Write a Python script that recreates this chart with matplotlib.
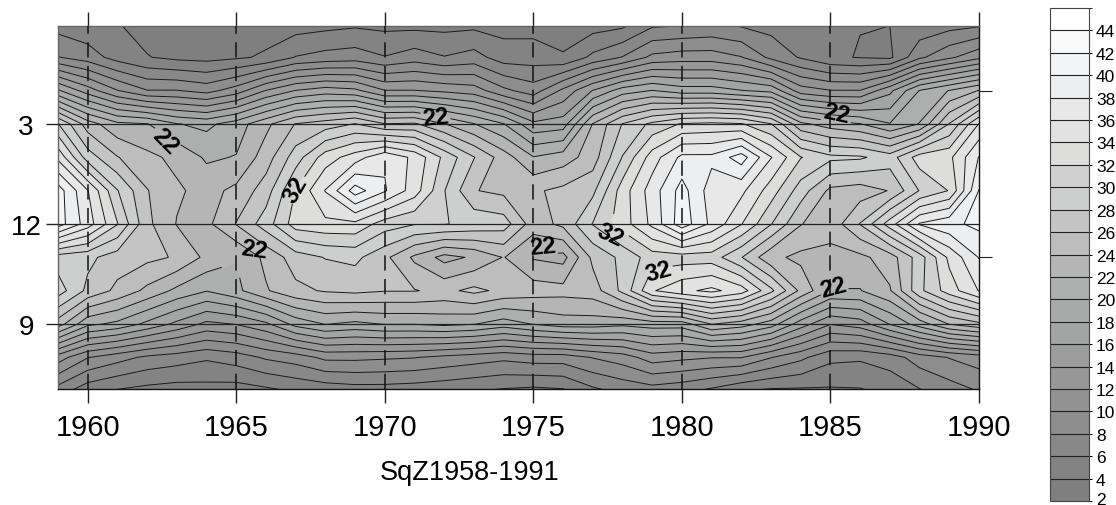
import matplotlib
matplotlib.use("Agg")
import matplotlib.pyplot as plt
from matplotlib.colors import ListedColormap, BoundaryNorm
from matplotlib.transforms import ScaledTranslation
import numpy as np

plt.rcParams['font.family'] = ['Liberation Sans', 'DejaVu Sans']

years = list(range(1959, 1991))
row_positions = [6, 5, 4, 3, 2, 1, 0, -1, -2, -3, -4, -5]

month_06 = [5.1,4.5,4.1,3.2,3,3,3,3,3,3.3,3.6,3.4,3.3,3.3,3.4,3.2,3.2,3,3,3.4,5.5,5.7,6.1,5.6,5.2,4.9,4.3,4.05,4.02,4.5,5.1,5.5]
month_05 = [8.1,7,5.2,4.1,3.5,3.3,3.7,4.3,6.1,6.7,7,6.1,7,6.1,6.8,5,5,4.2,6.5,8.1,10.5,11,11,10.1,7.5,5.8,4.3,3.9,3.6,7.6,9.6,11.5]
month_04 = [18.3,15,12.1,10.1,10.1,9.3,11,14.1,16.1,17,16.5,14.1,14.1,13.6,13,10.5,9,12.5,16.1,19,20.1,19,19,18.1,17.5,13,12.1,12.1,15.5,20.1,22.1,24.1]
month_03 = [30.1,25,22.5,22.1,20.1,19.5,21,23.5,26.1,27,28.1,26.1,26.3,24.1,22.1,20.1,16.5,17,24.1,28.1,30.5,32.2,32.5,32.2,30.1,24.5,23,22.1,20.1,22.1,28.1,34.1]
month_02 = [35.5,29,26.1,24.5,23.5,21.7,22.1,25,29,33,35,37.7,35.5,31.5,28.1,25,22.1,23,25,30.1,35,38.5,38.5,41,36.1,32.1,30.5,30.3,29,33,33.5,38.1]
month_01 = [41,36.1,30.1,26.1,24.3,23.3,24.5,27,32.1,36.1,41,38.2,35,30.1,26.1,25.5,25.7,26.5,27.5,33,37,40.8,37,36.5,33,29,25.5,25,26.1,30.1,32.1,40.1]
month_12 = [41,37,32.1,26.5,23.9,23.5,26.1,29,33,33.5,33.5,31,30.1,30.1,29.5,29,25,26.5,30.1,33,36.5,41.2,37.5,34.1,30.1,26.1,24.7,28.1,33,38.2,39.5,40.5]
month_11 = [29,28.5,27,26.5,25.8,23.5,22.1,24.5,27,28.1,28.5,26.5,23.6,21.3,22.3,24.1,21.8,21.3,26.5,28.5,31,31,31,28.1,24.5,23.5,23.5,23.5,25,29,34.5,38.1]
month_10 = [31,27.5,25.5,23.5,21.5,20.1,21.5,23.8,25.5,26.2,26.5,26.1,26.1,25.5,26.5,25.5,25,24.7,25,28.5,33.8,35.5,36.5,35,30.5,25.5,21.9,21.9,23.8,29.5,33,36.1]
month_09 = [25,20.5,19.5,17.5,15.5,13.5,14.1,15.6,18.7,20.1,19.5,20.1,20.1,20.5,20.1,19,20.1,21,21,20.5,21,21,24.1,23,21,17,14.1,15,18.1,21,24.1,25.5]
month_08 = [13,10.1,8.8,7.6,7,6.3,7,8.3,9,10.5,10.5,10.3,10.1,9.5,9,8.5,9,9,10.1,11,13,12.5,12.1,12.1,10.1,8.5,6.5,6.3,7,9,10.1,11]
month_07 = [7,4.7,3.8,3.3,3,3.2,3,3.5,4.2,4.6,5,5,4.8,4.5,4.1,3.7,3.4,3.7,5.5,6.5,7,6.5,5.5,4.1,3.6,3.6,3.7,3.8,4.5,5.8,7,8.1]

levels = list(range(2, 47, 2))
labelled_levels = [22, 32]
band_colors = ['#7f7f7f','#838383','#888888','#8d8d8d','#929292','#979797','#9c9c9c',
               '#a3a5a4','#a8aaa9','#adafae','#b5b5b5','#bdbdbd','#c4c4c4','#cdcfcf',
               '#d0d0d0','#dddddc','#e2e2e2','#e8e8e8','#eceef0','#f3f4f6','#f9f9f9','#ffffff']
year_ticks = [1960, 1965, 1970, 1975, 1980, 1985, 1990]
season_ticks = [3, 0, -3]
season_labels = ['3', '12', '9']
right_ticks = [4, -1]
colorbar_ticks = list(range(2, 45, 2))
title_text = 'SqZ1958-1991'

Z = np.array([month_06, month_05, month_04, month_03, month_02, month_01,
              month_12, month_11, month_10, month_09, month_08, month_07])

W, H = 1116, 506
fig = plt.figure(figsize=(W/100, H/100), dpi=100)
ax = fig.add_axes([58/W, 1-390/H, (979-58)/W, (390-27)/H])

cmap = ListedColormap(band_colors)
norm = BoundaryNorm(levels, cmap.N)
cf = ax.contourf(years, row_positions, Z, levels=levels, cmap=cmap, norm=norm)
plain_levels = [v for v in levels if v not in labelled_levels]
ax.contour(years, row_positions, Z, levels=plain_levels, colors='#1a1a1a', linewidths=0.7)
cs = ax.contour(years, row_positions, Z, levels=labelled_levels, colors='#1a1a1a', linewidths=0.7)

ax.set_xlim(1959, 1990)
ax.set_ylim(-4.95, 5.94)

label_spots = [(1962.6, 2.49), (1971.7, 3.21), (1985.2, 3.33), (1975.3, -0.66),
               (1965.6, -0.75), (1985.1, -1.89), (1967.0, 1.05), (1977.6, -0.33), (1979.2, -1.41)]
label_angles = [-45, 6, -12, 5, -8, 15, 60, -25, 15]
texts = ax.clabel(cs, manual=label_spots, fmt='%d', fontsize=17,
                  colors='k', inline=True, inline_spacing=2)
for t, spot, ang in zip(texts, label_spots, label_angles):
    t.set_fontweight('bold')
    t.set_position(spot)
    t.set_rotation(ang)
    t.set_zorder(8)

for yr in year_ticks[:-1]:
    ax.axvline(yr, color='#111111', lw=1.1, ls=(0, (10, 5.5)), zorder=5)
for s in season_ticks:
    ax.axhline(s, color='#222222', lw=0.9, zorder=5)

ax.set_xticks(year_ticks)
ax.set_yticks(season_ticks)
ax.set_yticklabels(season_labels)
ax.tick_params(axis='x', which='both', top=True, bottom=True, length=10, width=1,
               labelsize=21, pad=7, color='#222222')
ax.tick_params(axis='y', length=9, width=1, labelsize=20, pad=14, color='#222222')
for t in ax.get_yticklabels():
    t.set_ha('center')
for side, col in [('top', '#666666'), ('left', '#666666'), ('right', '#111111'), ('bottom', '#111111')]:
    ax.spines[side].set_color(col)
    ax.spines[side].set_linewidth(1.0)

ax2 = ax.twinx()
ax2.set_ylim(ax.get_ylim())
ax2.set_yticks(right_ticks)
ax2.set_yticklabels([])
ax2.tick_params(axis='y', length=9, width=0.8, color='#222222')
for sp in ax2.spines.values():
    sp.set_visible(False)

fig.text(470/W, 1-473/H, title_text, ha='center', va='center', fontsize=19.5)

cax = fig.add_axes([1050/W, 1-502/H, 39/W, 493/H])
cb = fig.colorbar(cf, cax=cax, spacing='proportional', drawedges=True)
cb.set_ticks(colorbar_ticks)
cb.set_ticklabels([str(v) for v in colorbar_ticks])
cb.ax.tick_params(length=2, width=0.7, labelsize=12.5, pad=3)
cb.dividers.set_color('#222222')
cb.dividers.set_linewidth(0.8)
cb.outline.set_edgecolor('#444444')
cb.outline.set_linewidth(0.8)
lowest = cb.ax.get_yticklabels()[0]
lowest.set_transform(lowest.get_transform() + ScaledTranslation(0, 3/100, fig.dpi_scale_trans))

fig.savefig('out.png', dpi=100)
